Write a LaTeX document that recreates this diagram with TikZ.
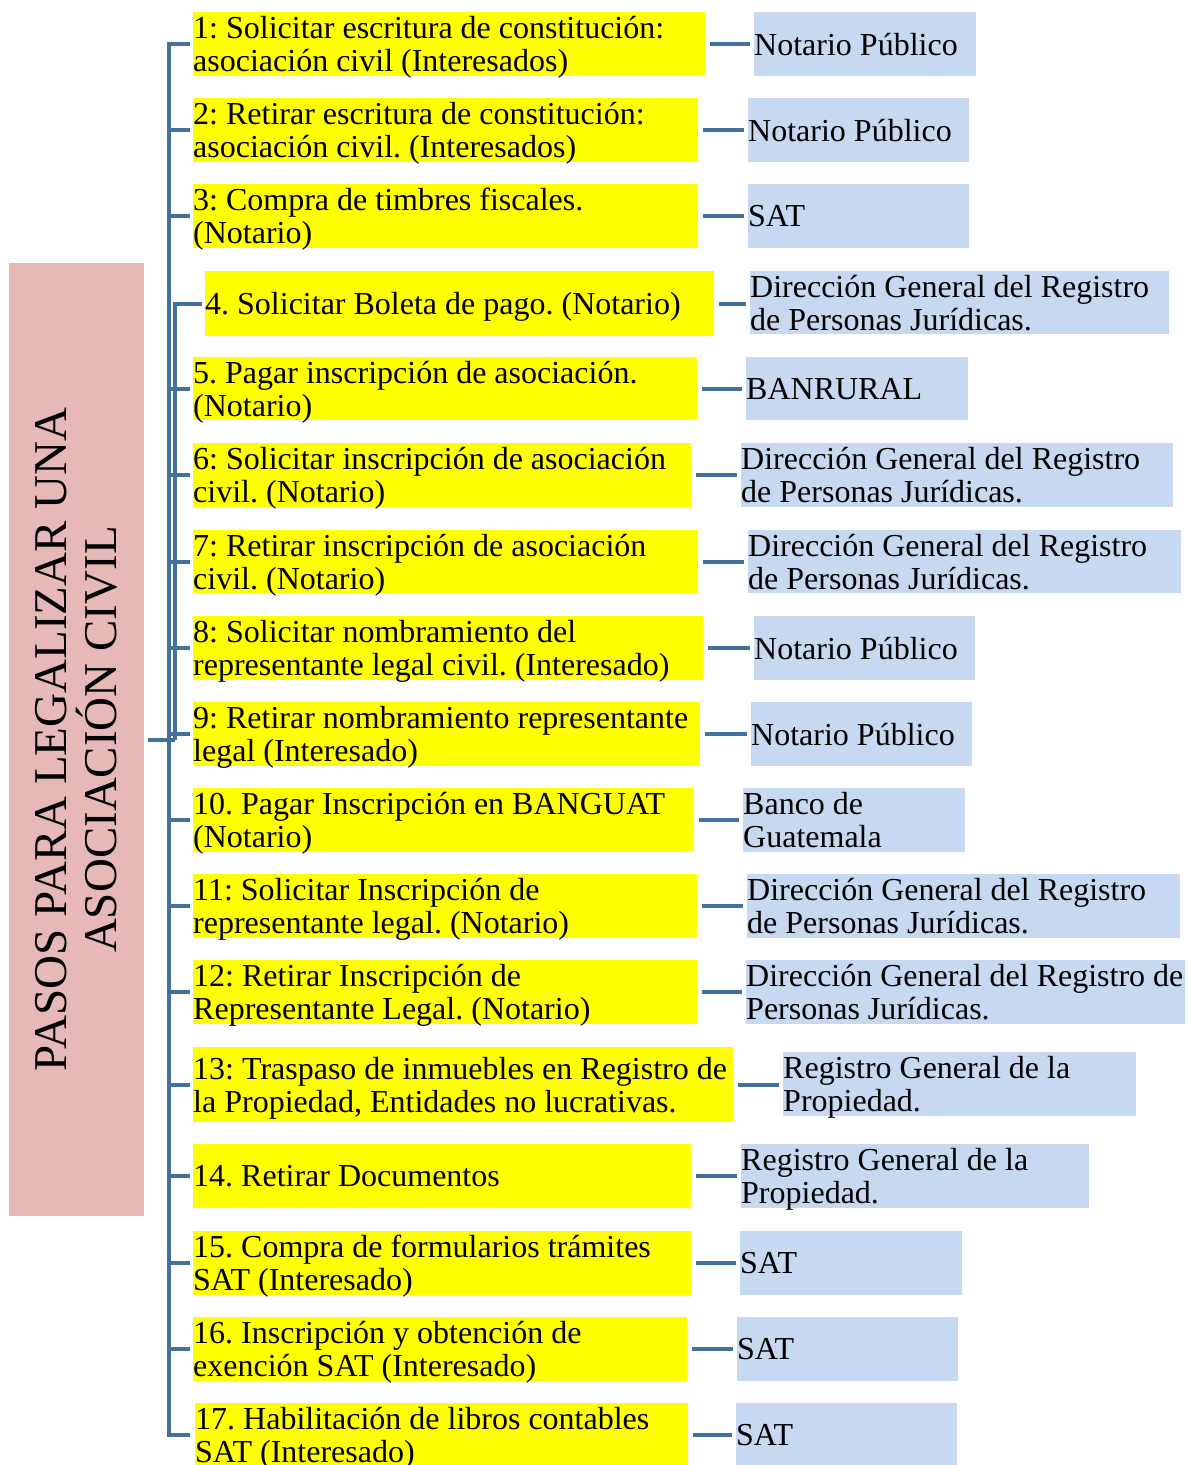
\documentclass[tikz,border=0pt]{standalone}
\usepackage{fontspec}
\setmainfont{Liberation Serif}
\frenchspacing
\definecolor{amarillo}{HTML}{FFFF00}
\definecolor{celeste}{HTML}{C6D9F1}
\definecolor{rosa}{HTML}{E6B9B8}
\definecolor{azul}{HTML}{41719C}
\begin{document}
\begin{tikzpicture}[x=1pt, y=-1pt, every node/.style={anchor=north west, align=flush left, inner sep=0pt}, font=\fontsize{32}{33}\selectfont]

\tikzstyle{paso}=[fill=amarillo, minimum height=64pt, text depth=33pt]
\tikzstyle{ente}=[fill=celeste, minimum height=64pt, text depth=33pt]
\tikzstyle{raiz}=[fill=rosa, anchor=center, align=center, rotate=90, minimum width=953pt, minimum height=135pt, font=\fontsize{47}{50}\selectfont]
\tikzstyle{linea}=[draw=azul, line width=4pt]
\tikzstyle{enlace}=[linea, shorten <=4.5pt, shorten >=4.5pt]

\useasboundingbox (0,0) rectangle (1187,1465);
\clip (0,0) rectangle (1187,1465);

\node[raiz] (raiz) at (76.5,739.5) {PASOS PARA LEGALIZAR UNA\\ASOCIACIÓN CIVIL};
\coordinate (tronco) at (169,0);
\coordinate (tronco2) at (175,0);

% pasos
\node[paso, text width=512pt] (p1) at (193,12) {1: Solicitar escritura de constitución:\\asociación civil (Interesados)};
\node[paso, text width=505pt] (p2) at (193,98) {2: Retirar escritura de constitución:\\asociación civil. (Interesados)};
\node[paso, text width=505pt] (p3) at (193,184) {3: Compra de timbres fiscales.\\(Notario)};
\node[paso, text width=509pt, minimum height=65pt, text depth=0pt] (p4) at (205,271) {4. Solicitar Boleta de pago. (Notario)};
\node[paso, text width=504pt, minimum height=63pt] (p5) at (193,357) {5. Pagar inscripción de asociación.\\(Notario)};
\node[paso, text width=498pt] (p6) at (193,443) {6: Solicitar inscripción de asociación\\civil. (Notario)};
\node[paso, text width=505pt, minimum height=63pt] (p7) at (193,530) {7: Retirar inscripción de asociación\\civil. (Notario)};
\node[paso, text width=510pt] (p8) at (193,616) {8: Solicitar nombramiento del\\representante legal civil. (Interesado)};
\node[paso, text width=507pt] (p9) at (193,702) {9: Retirar nombramiento representante\\legal (Interesado)};
\node[paso, text width=501pt] (p10) at (193,788) {10. Pagar Inscripción en BANGUAT\\(Notario)};
\node[paso, text width=504pt] (p11) at (193,874) {11: Solicitar Inscripción de\\representante legal. (Notario)};
\node[paso, text width=504pt] (p12) at (193,960) {12: Retirar Inscripción de\\Representante Legal. (Notario)};
\node[paso, text width=540pt, minimum height=75pt] (p13) at (193,1047) {13: Traspaso de inmuebles en Registro de\\la Propiedad, Entidades no lucrativas.};
\node[paso, text width=498pt, text depth=0pt] (p14) at (193,1144) {14. Retirar Documentos};
\node[paso, text width=498pt] (p15) at (193,1231) {15. Compra de formularios trámites\\SAT (Interesado)};
\node[paso, text width=494pt] (p16) at (193,1317) {16. Inscripción y obtención de\\exención SAT (Interesado)};
\node[paso, text width=493pt] (p17) at (195,1403) {17. Habilitación de libros contables\\SAT (Interesado)};

% entidades
\node[ente, text width=222pt, text depth=0pt] (e1) at (754,12) {Notario Público};
\node[ente, text width=221pt, text depth=0pt] (e2) at (748,98) {Notario Público};
\node[ente, text width=221pt, text depth=0pt] (e3) at (748,184) {SAT};
\node[ente, text width=419pt, minimum height=63pt] (e4) at (750,271) {Dirección General del Registro\\de Personas Jurídicas.};
\node[ente, text width=222pt, minimum height=63pt, text depth=0pt] (e5) at (746,357) {BANRURAL};
\node[ente, text width=432pt] (e6) at (741,443) {Dirección General del Registro\\de Personas Jurídicas.};
\node[ente, text width=433pt, minimum height=63pt] (e7) at (748,530) {Dirección General del Registro\\de Personas Jurídicas.};
\node[ente, text width=221pt, text depth=0pt] (e8) at (754,616) {Notario Público};
\node[ente, text width=221pt, text depth=0pt] (e9) at (751,702) {Notario Público};
\node[ente, text width=222pt] (e10) at (743,788) {Banco de\\Guatemala};
\node[ente, text width=433pt] (e11) at (747,874) {Dirección General del Registro\\de Personas Jurídicas.};
\node[ente, text width=439pt] (e12) at (746,960) {Dirección General del Registro de\\Personas Jurídicas.};
\node[ente, text width=353pt] (e13) at (783,1052) {Registro General de la\\Propiedad.};
\node[ente, text width=348pt] (e14) at (741,1144) {Registro General de la\\Propiedad.};
\node[ente, text width=222pt, text depth=0pt] (e15) at (740,1231) {SAT};
\node[ente, text width=221pt, text depth=0pt] (e16) at (737,1317) {SAT};
\node[ente, text width=221pt, text depth=0pt] (e17) at (736,1403) {SAT};

% tronco principal
\draw[linea] ([xshift=-3pt]p1.west) -| (tronco |- p17.west) -- ([xshift=-5pt]p17.west);
\draw[linea, shorten >=3pt] (p2.west -| tronco) -- (p2.west);
\draw[linea, shorten >=3pt] (p3.west -| tronco) -- (p3.west);
\draw[linea, shorten >=3pt] (p5.west -| tronco) -- (p5.west);
\draw[linea, shorten >=3pt] (p6.west -| tronco) -- (p6.west);
\draw[linea, shorten >=3pt] (p7.west -| tronco) -- (p7.west);
\draw[linea, shorten >=3pt] (p8.west -| tronco) -- (p8.west);
\draw[linea, shorten >=3pt] (p9.west -| tronco) -- (p9.west);
\draw[linea, shorten >=3pt] (p10.west -| tronco) -- (p10.west);
\draw[linea, shorten >=3pt] (p11.west -| tronco) -- (p11.west);
\draw[linea, shorten >=3pt] (p12.west -| tronco) -- (p12.west);
\draw[linea, shorten >=3pt] (p13.west -| tronco) -- (p13.west);
\draw[linea, shorten >=3pt] (p14.west -| tronco) -- (p14.west);
\draw[linea, shorten >=3pt] (p15.west -| tronco) -- (p15.west);
\draw[linea, shorten >=3pt] (p16.west -| tronco) -- (p16.west);
% rama del paso 4
\draw[linea] ([xshift=-3pt]p4.west) -| (tronco2 |- raiz);
\draw[linea, shorten <=4pt] (raiz) -- (tronco2 |- raiz);

% pasos a entidades
\draw[enlace] (p1.east) -- (p1.east -| e1.west);
\draw[enlace] (p2.east) -- (p2.east -| e2.west);
\draw[enlace] (p3.east) -- (p3.east -| e3.west);
\draw[enlace] (p4.east) -- (p4.east -| e4.west);
\draw[enlace] (p5.east) -- (p5.east -| e5.west);
\draw[enlace] (p6.east) -- (p6.east -| e6.west);
\draw[enlace] (p7.east) -- (p7.east -| e7.west);
\draw[enlace] (p8.east) -- (p8.east -| e8.west);
\draw[enlace] (p9.east) -- (p9.east -| e9.west);
\draw[enlace] (p10.east) -- (p10.east -| e10.west);
\draw[enlace] (p11.east) -- (p11.east -| e11.west);
\draw[enlace] (p12.east) -- (p12.east -| e12.west);
\draw[enlace] (p13.east) -- (p13.east -| e13.west);
\draw[enlace] (p14.east) -- (p14.east -| e14.west);
\draw[enlace] (p15.east) -- (p15.east -| e15.west);
\draw[enlace] (p16.east) -- (p16.east -| e16.west);
\draw[enlace] (p17.east) -- (p17.east -| e17.west);
\end{tikzpicture}
\end{document}
